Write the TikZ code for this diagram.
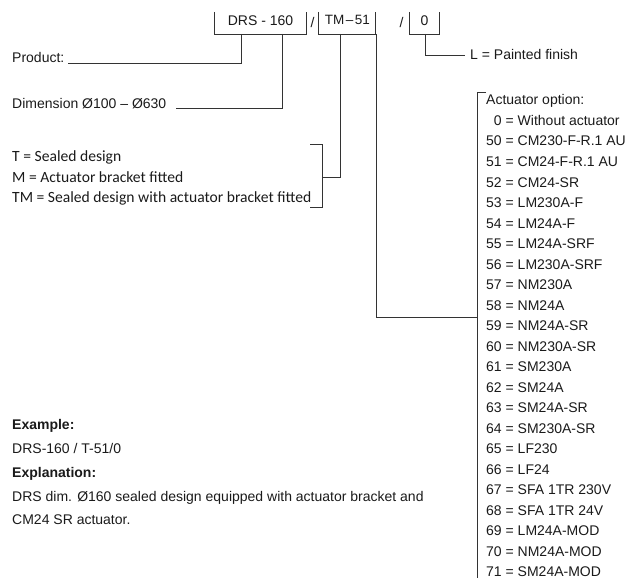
\documentclass[tikz,border=0pt]{standalone}
\usepackage{fontspec}
\setmainfont{Liberation Sans}
\newfontfamily\calfont{Carlito}
\definecolor{lc}{HTML}{333333}
\definecolor{tc}{HTML}{1A1A1A}
\begin{document}
\begin{tikzpicture}[x=1pt,y=-1pt,
  ln/.style={draw=lc, line width=0.9pt},
  txt/.style={inner sep=0pt, anchor=base west, text=tc, font=\fontsize{14}{16}\selectfont},
  ctxt/.style={inner sep=0pt, anchor=base west, text=tc, font=\calfont\fontsize{15.6}{18}\selectfont},
  boxn/.style={inner sep=0pt, minimum height=22pt}]
\useasboundingbox (0,0) rectangle (627,578);

% code boxes (open at the top)
\node[boxn, minimum width=91pt] (drs) at (260.5,23) {};
\node[boxn, minimum width=56pt] (tm) at (347,23) {};
\node[boxn, minimum width=29pt] (fin) at (424.5,23) {};
\node[txt, anchor=center] (drst) at (260.5,20.5) {DRS - 160};
\node[txt, anchor=center, font=\fontsize{13.5}{16}\selectfont] (tmt) at (347.5,19.5) {TM\kern1.5pt--\kern1.5pt51};
\node[txt, anchor=center] (fint) at (424.5,20.5) {0};
\node[txt, anchor=center] (s1) at (312.5,22) {/};
\node[txt, anchor=center] (s2) at (401.5,22) {/};
\foreach \b in {drs,tm,fin}
  \draw[ln] (\b.north west) |- (\b.south east) -- (\b.north east);

% product
\node[txt] (prod) at (12,63) {Product:};
\coordinate (prodE) at (68,63);
\coordinate (drsA) at (241,34);
\draw[ln] (drsA) |- (prodE);

% dimension
\node[txt] (dim) at (12,108) {Dimension Ø100 -- Ø630};
\coordinate (dimE) at (176,108);
\coordinate (drsB) at (282,34);
\draw[ln] (drsB) |- (dimE);

% finish
\node[txt] (paint) at (470,60) {L = Painted finish};
\coordinate (finA) at (425,34);
\coordinate (paintW) at (465,55);
\draw[ln] (finA) |- (paintW);

% design options
\node[ctxt] (t1) at (12,161) {T = Sealed design};
\node[ctxt] (t2) at (12,182) {M = Actuator bracket fitted};
\node[ctxt] (t3) at (12,202) {TM = Sealed design with actuator bracket fitted};
\coordinate (brTop) at (322,144);
\coordinate (brBot) at (322,207);
\coordinate (brMid) at (322,177);
\draw[ln] (310,144) -- (brTop) -- (brBot) -- (310,207);
\coordinate (tmA) at (340,34);
\draw[ln] (tmA) |- (brMid);

% actuator options
\coordinate (acTop) at (477,92);
\coordinate (acBot) at (477,578);
\coordinate (acJoin) at (477,317);
\draw[ln] (486,92) -- (acTop) -- (acBot);
\coordinate (tmB) at (376,34);
\draw[ln] (tmB) |- (acJoin);

\node[txt] (ac0) at (486,105) {Actuator option:};
\foreach \t [count=\i] in {%
  \hphantom{5}0 = Without actuator,
  50 = CM230-F-R.1 AU,
  51 = CM24-F-R.1 AU,
  52 = CM24-SR,
  53 = LM230A-F,
  54 = LM24A-F,
  55 = LM24A-SRF,
  56 = LM230A-SRF,
  57 = NM230A,
  58 = NM24A,
  59 = NM24A-SR,
  60 = NM230A-SR,
  61 = SM230A,
  62 = SM24A,
  63 = SM24A-SR,
  64 = SM230A-SR,
  65 = LF230,
  66 = LF24,
  67 = SFA 1TR 230V,
  68 = SFA 1TR 24V,
  69 = LM24A-MOD,
  70 = NM24A-MOD,
  71 = SM24A-MOD}
  \node[txt] (ac\i) at (486,{105+20.5*\i}) {\t};

% example
\node[txt, font=\bfseries\fontsize{14}{16}\selectfont] (ex) at (12,429) {Example:};
\node[txt] (ex1) at (12,453) {DRS-160 / T-51/0};
\node[txt, font=\bfseries\fontsize{14}{16}\selectfont] (expl) at (12,477) {Explanation:};
\node[txt] (ex2) at (12,501) {DRS dim. Ø160 sealed design equipped with actuator bracket and};
\node[txt] (ex3) at (12,524) {CM24 SR actuator.};
\end{tikzpicture}
\end{document}
